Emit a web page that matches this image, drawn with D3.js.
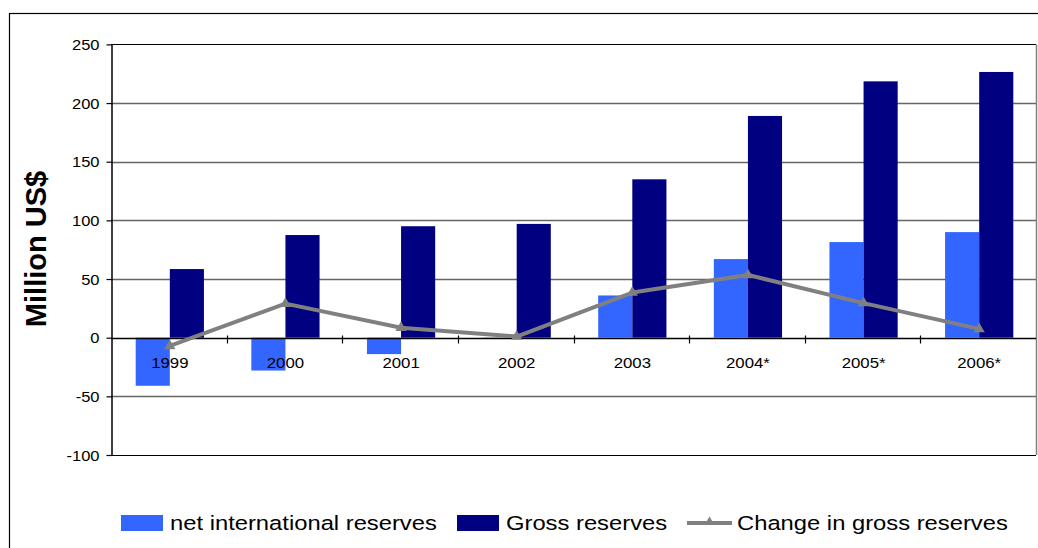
<!DOCTYPE html>
<html>
<head>
<meta charset="utf-8">
<script src="https://cdn.jsdelivr.net/npm/d3@7"></script>
<style>
  html, body { margin: 0; padding: 0; background: #fff; }
  svg { display: block; font-family: "Liberation Sans", Arial, sans-serif; }
</style>
</head>
<body>
<svg id="chart" width="1038" height="548"></svg>
<script>
const categories = ["1999", "2000", "2001", "2002", "2003", "2004*", "2005*", "2006*"];
const netReserves = [-41, -28, -14, -1, 36, 67, 81.5, 90];
const grossReserves = [58.5, 87.5, 95, 97, 135, 189, 218.5, 226.5];
const changeGross = [-7, 29, 8.5, 1, 38.5, 53.5, 29.5, 7.5];
const yTicks = [-100, -50, 0, 50, 100, 150, 200, 250];
const seriesNames = ["net international reserves", "Gross reserves", "Change in gross reserves"];
const colors = ["#3366FF", "#000080", "#808080"];

const svg = d3.select("#chart");
const plot = { left: 111, right: 1036, top: 44.4, bottom: 455 };

// outer frame
svg.append("rect").attr("x", 9.5).attr("y", 13.5).attr("width", 1100).attr("height", 700)
  .attr("fill", "none").attr("stroke", "#000").attr("stroke-width", 1.2);

const x = d3.scaleBand().domain(categories).range([plot.left, plot.right]).padding(0);
const y = d3.scaleLinear().domain([-100, 250]).range([plot.bottom, plot.top]);

// gridlines
svg.append("g").selectAll("line").data(yTicks.filter(d => d !== 0 && d !== 250 && d !== -100)).join("line")
  .attr("x1", plot.left).attr("x2", plot.right)
  .attr("y1", d => Math.round(y(d)) + 0.5).attr("y2", d => Math.round(y(d)) + 0.5)
  .attr("stroke", "#666").attr("stroke-width", 1.3);

// plot border top / bottom / right
svg.append("line").attr("x1", plot.left).attr("x2", plot.right)
  .attr("y1", Math.round(y(250)) + 0.5).attr("y2", Math.round(y(250)) + 0.5)
  .attr("stroke", "#000").attr("stroke-width", 1.2);
svg.append("line").attr("x1", plot.left).attr("x2", plot.right)
  .attr("y1", Math.round(y(-100)) + 0.5).attr("y2", Math.round(y(-100)) + 0.5)
  .attr("stroke", "#000").attr("stroke-width", 1.2);
svg.append("line").attr("x1", plot.right + 0.5).attr("x2", plot.right + 0.5)
  .attr("y1", y(250)).attr("y2", y(-100))
  .attr("stroke", "#808080").attr("stroke-width", 1.5);

// bars
const groupFrac = 0.59;
const barW = x.bandwidth() * groupFrac / 2;
const cx = d => x(d) + x.bandwidth() / 2 + 1;

svg.append("g").selectAll("rect").data(categories).join("rect")
  .attr("x", (d) => cx(d) - barW)
  .attr("width", barW)
  .attr("y", (d, i) => y(Math.max(0, netReserves[i])))
  .attr("height", (d, i) => Math.abs(y(netReserves[i]) - y(0)))
  .attr("fill", colors[0]);

svg.append("g").selectAll("rect").data(categories).join("rect")
  .attr("x", (d) => cx(d))
  .attr("width", barW)
  .attr("y", (d, i) => y(Math.max(0, grossReserves[i])))
  .attr("height", (d, i) => Math.abs(y(grossReserves[i]) - y(0)))
  .attr("fill", colors[1]);

// y axis
const yAxis = d3.axisLeft(y).tickValues(yTicks).tickSize(5).tickSizeOuter(0).tickFormat(d => String(d));
const gy = svg.append("g").attr("transform", `translate(${plot.left + 0.5},0)`).call(yAxis);
gy.attr("font-family", null);
gy.select(".domain").attr("stroke", "#000").attr("stroke-width", 1.5);
gy.selectAll(".tick line").attr("stroke", "#000").attr("stroke-width", 1.2);
gy.selectAll(".tick text").attr("font-size", 15).attr("fill", "#000")
  .attr("x", 0).attr("dy", null)
  .attr("transform", "translate(-12,5)scale(1.1,1)");

// x axis at zero
const gx = svg.append("g").attr("transform", `translate(0,${Math.round(y(0)) + 0.5})`);
gx.append("line").attr("x1", plot.left).attr("x2", plot.right).attr("stroke", "#000").attr("stroke-width", 1.5);
const boundaries = categories.slice(1).map(d => x(d));
gx.selectAll("line.tk").data(boundaries).join("line").attr("class", "tk")
  .attr("x1", d => Math.round(d) + 0.5).attr("x2", d => Math.round(d) + 0.5)
  .attr("y1", -3).attr("y2", 5).attr("stroke", "#000").attr("stroke-width", 1.2);
gx.selectAll("text").data(categories).join("text")
  .attr("transform", d => `translate(${cx(d)},${29})scale(1.12,1)`)
  .attr("text-anchor", "middle").attr("font-size", 15).attr("fill", "#000")
  .text(d => d);

// line series
const line = d3.line().x((d, i) => cx(categories[i])).y(d => y(d));
svg.append("path").datum(changeGross).attr("d", line)
  .attr("fill", "none").attr("stroke", colors[2]).attr("stroke-width", 4)
  .attr("stroke-linejoin", "round");
const tri = d3.symbol().type(d3.symbolTriangle).size(55);
svg.append("g").selectAll("path").data(changeGross).join("path")
  .attr("d", tri)
  .attr("transform", (d, i) => `translate(${cx(categories[i])},${y(d)})`)
  .attr("fill", colors[2]);

// y title
svg.append("text")
  .attr("transform", "translate(46,249)rotate(-90)")
  .attr("text-anchor", "middle").attr("font-size", 29).attr("font-weight", "bold")
  .attr("fill", "#000")
  .text("Million US$");

// legend
const lg = svg.append("g");
const legendItems = [
  { name: seriesNames[0], type: "rect", color: colors[0], sx: 121, tx: 170 },
  { name: seriesNames[1], type: "rect", color: colors[1], sx: 457, tx: 506 },
  { name: seriesNames[2], type: "line", color: colors[2], sx: 687, tx: 737 }
];
legendItems.forEach(it => {
  if (it.type === "rect") {
    lg.append("rect").attr("x", it.sx).attr("y", 515).attr("width", 42).attr("height", 16).attr("fill", it.color);
  } else {
    lg.append("line").attr("x1", it.sx).attr("x2", it.sx + 45).attr("y1", 523).attr("y2", 523)
      .attr("stroke", it.color).attr("stroke-width", 4);
    lg.append("path").attr("d", d3.symbol().type(d3.symbolTriangle).size(40)())
      .attr("transform", `translate(${it.sx + 22.5},522)`).attr("fill", it.color);
  }
  lg.append("text").attr("transform", `translate(${it.tx},529.5)scale(1.16,1)`)
    .attr("font-size", 20.5).attr("fill", "#000").text(it.name);
});
</script>
</body>
</html>
